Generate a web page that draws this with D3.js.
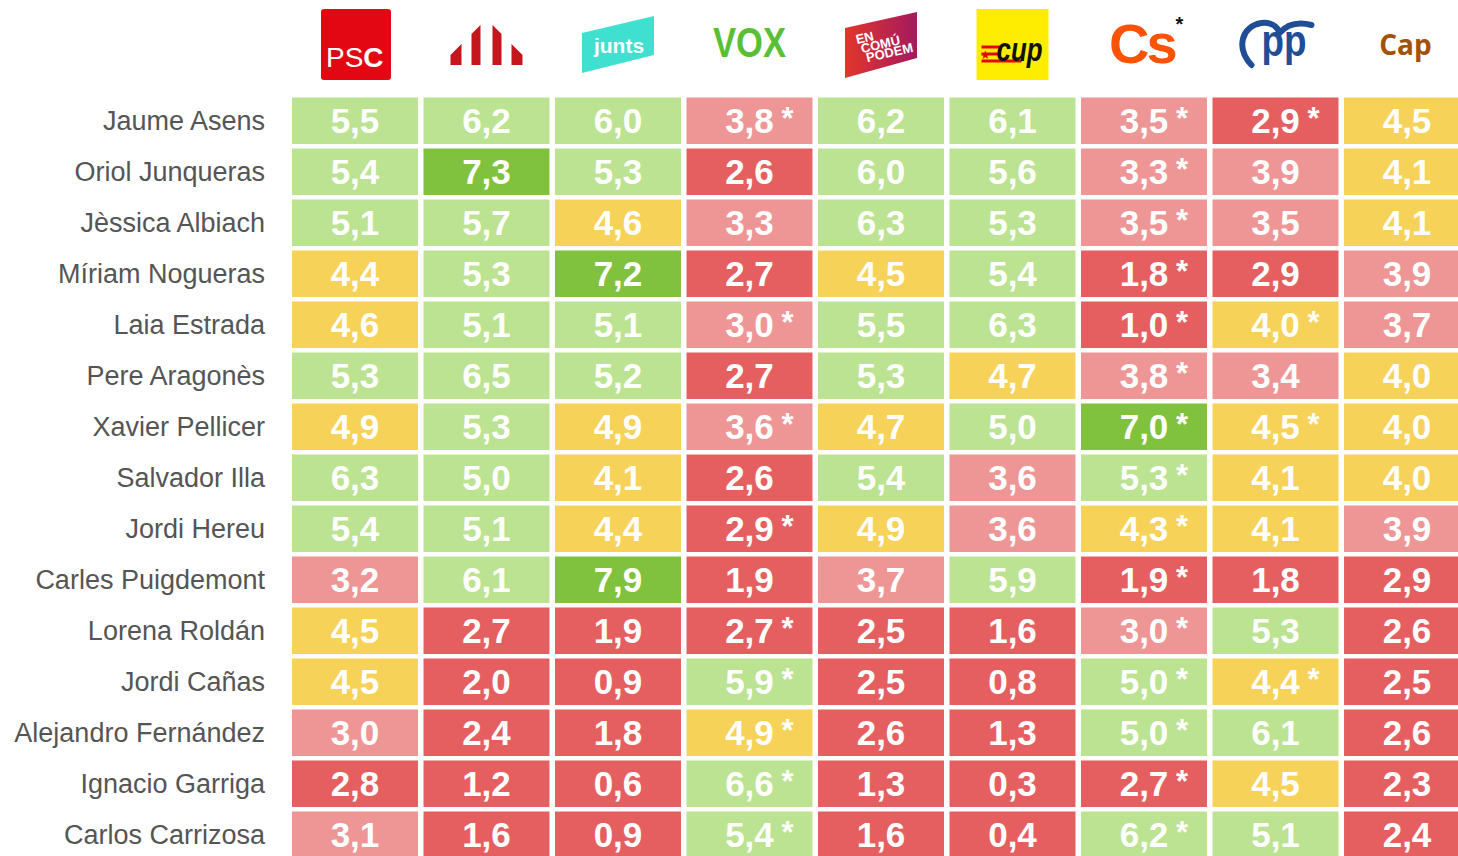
<!DOCTYPE html>
<html>
<head>
<meta charset="utf-8">
<script src="https://cdn.jsdelivr.net/npm/d3@7"></script>
<style>
  body { margin: 0; background: #fff; }
  svg { display: block; }
</style>
</head>
<body>
<div id="chart"></div>
<script>
const width = 1458;
const height = 856;

const parties = ["PSC", "ERC", "Junts", "VOX", "ECP", "CUP", "Cs", "PP", "Cap"];

const leaders = [
  "Jaume Asens", "Oriol Junqueras", "Jèssica Albiach", "Míriam Nogueras",
  "Laia Estrada", "Pere Aragonès", "Xavier Pellicer", "Salvador Illa",
  "Jordi Hereu", "Carles Puigdemont", "Lorena Roldán", "Jordi Cañas",
  "Alejandro Fernández", "Ignacio Garriga", "Carlos Carrizosa"
];

// one row per leader, one value per party (same order as parties)
const scores = [
  [5.5, 6.2, 6.0, 3.8, 6.2, 6.1, 3.5, 2.9, 4.5],
  [5.4, 7.3, 5.3, 2.6, 6.0, 5.6, 3.3, 3.9, 4.1],
  [5.1, 5.7, 4.6, 3.3, 6.3, 5.3, 3.5, 3.5, 4.1],
  [4.4, 5.3, 7.2, 2.7, 4.5, 5.4, 1.8, 2.9, 3.9],
  [4.6, 5.1, 5.1, 3.0, 5.5, 6.3, 1.0, 4.0, 3.7],
  [5.3, 6.5, 5.2, 2.7, 5.3, 4.7, 3.8, 3.4, 4.0],
  [4.9, 5.3, 4.9, 3.6, 4.7, 5.0, 7.0, 4.5, 4.0],
  [6.3, 5.0, 4.1, 2.6, 5.4, 3.6, 5.3, 4.1, 4.0],
  [5.4, 5.1, 4.4, 2.9, 4.9, 3.6, 4.3, 4.1, 3.9],
  [3.2, 6.1, 7.9, 1.9, 3.7, 5.9, 1.9, 1.8, 2.9],
  [4.5, 2.7, 1.9, 2.7, 2.5, 1.6, 3.0, 5.3, 2.6],
  [4.5, 2.0, 0.9, 5.9, 2.5, 0.8, 5.0, 4.4, 2.5],
  [3.0, 2.4, 1.8, 4.9, 2.6, 1.3, 5.0, 6.1, 2.6],
  [2.8, 1.2, 0.6, 6.6, 1.3, 0.3, 2.7, 4.5, 2.3],
  [3.1, 1.6, 0.9, 5.4, 1.6, 0.4, 6.2, 5.1, 2.4]
];

// 1 = value marked with an asterisk
const starred = [
  [0, 0, 0, 1, 0, 0, 1, 1, 0],
  [0, 0, 0, 0, 0, 0, 1, 0, 0],
  [0, 0, 0, 0, 0, 0, 1, 0, 0],
  [0, 0, 0, 0, 0, 0, 1, 0, 0],
  [0, 0, 0, 1, 0, 0, 1, 1, 0],
  [0, 0, 0, 0, 0, 0, 1, 0, 0],
  [0, 0, 0, 1, 0, 0, 1, 1, 0],
  [0, 0, 0, 0, 0, 0, 1, 0, 0],
  [0, 0, 0, 1, 0, 0, 1, 0, 0],
  [0, 0, 0, 0, 0, 0, 1, 0, 0],
  [0, 0, 0, 1, 0, 0, 1, 0, 0],
  [0, 0, 0, 1, 0, 0, 1, 1, 0],
  [0, 0, 0, 1, 0, 0, 1, 0, 0],
  [0, 0, 0, 1, 0, 0, 1, 0, 0],
  [0, 0, 0, 1, 0, 0, 1, 0, 0]
];

const colorBreaks = [3, 4, 5, 7];
const colorPalette = ["#e65f60", "#ee9696", "#f7d259", "#bce391", "#80c13d"];

let svg = d3.select("#chart")
            .append("svg")
            .attr("width", width)
            .attr("height", height)
            .style("font-family", "'Liberation Sans', Arial, sans-serif");

const x = d3.scaleBand()
            .domain(parties)
            .range([292, 1470])
            .paddingInner(0.042);

const y = d3.scaleBand()
            .domain(leaders)
            .range([97.5, 858])
            .paddingInner(0.088);

const color = d3.scaleThreshold()
                .domain(colorBreaks)
                .range(colorPalette);

const fmt = v => d3.format(".1f")(v).replace(".", ",");

function drawCells() {
  const cells = [];
  leaders.forEach((name, i) => {
    parties.forEach((p, j) => {
      cells.push({ name: name, party: p, value: scores[i][j], star: starred[i][j] });
    });
  });

  let g = svg.append("g").attr("class", "cells");

  g.selectAll("rect")
    .data(cells)
    .enter()
    .append("rect")
    .attr("x", d => x(d.party))
    .attr("y", d => y(d.name))
    .attr("width", x.bandwidth())
    .attr("height", y.bandwidth())
    .attr("fill", d => color(d.value));

  g.selectAll("text.value")
    .data(cells)
    .enter()
    .append("text")
    .attr("class", "value")
    .attr("x", d => x(d.party) + x.bandwidth() / 2)
    .attr("y", d => y(d.name) + y.bandwidth() / 2)
    .attr("dy", "0.36em")
    .attr("text-anchor", "middle")
    .attr("fill", "#fff")
    .attr("font-size", 35)
    .attr("font-weight", "bold")
    .text(d => fmt(d.value));

  // asterisk sits high, like a superscript
  g.selectAll("text.star")
    .data(cells.filter(d => d.star))
    .enter()
    .append("text")
    .attr("class", "star")
    .attr("x", d => x(d.party) + x.bandwidth() / 2 + 32)
    .attr("y", d => y(d.name) + y.bandwidth() / 2 + 8)
    .attr("fill", "#fff")
    .attr("font-size", 31)
    .attr("font-weight", "bold")
    .text("*");
}

function drawLabels() {
  svg.append("g")
    .selectAll("text")
    .data(leaders)
    .enter()
    .append("text")
    .attr("x", 265)
    .attr("y", d => y(d) + y.bandwidth() / 2)
    .attr("dy", "0.35em")
    .attr("text-anchor", "end")
    .attr("fill", "#555")
    .attr("font-size", 27)
    .text(d => d);
}

// party logos, drawn around each column centre
const logoDrawers = {
  PSC: g => {
    g.append("rect").attr("x", -34).attr("y", 9).attr("width", 70).attr("height", 71)
      .attr("rx", 3).attr("fill", "#e30613");
    let t = g.append("text").attr("x", -29).attr("y", 67).attr("fill", "#fff").attr("font-size", 28);
    t.append("tspan").text("PS");
    t.append("tspan").attr("font-weight", "bold").text("C");
  },
  ERC: g => {
    const bars = [[-36, -25], [-15, -6], [6, 15], [25, 36]];
    const roof = xx => 19 + Math.abs(xx);
    bars.forEach(b => {
      g.append("polygon")
        .attr("points", [[b[0], 65], [b[0], roof(b[0])], [b[1], roof(b[1])], [b[1], 65]].join(" "))
        .attr("fill", "#c5161d");
    });
  },
  Junts: g => {
    g.append("polygon")
      .attr("points", "-36,33 36,16 36,55 -36,73")
      .attr("fill", "#40e0d0");
    g.append("text").attr("x", 1).attr("y", 53).attr("text-anchor", "middle")
      .attr("fill", "#fff").attr("font-size", 21).attr("font-weight", "bold").text("junts");
  },
  VOX: g => {
    g.append("text").attr("x", 0).attr("y", 57).attr("text-anchor", "middle")
      .attr("fill", "#5bbf35").attr("font-size", 42).attr("font-weight", "bold")
      .attr("textLength", 73).attr("lengthAdjust", "spacingAndGlyphs").text("VOX");
  },
  ECP: g => {
    let grad = svg.append("defs").append("linearGradient").attr("id", "ecpGrad");
    grad.append("stop").attr("offset", "0%").attr("stop-color", "#e2362c");
    grad.append("stop").attr("offset", "100%").attr("stop-color", "#a31a5e");
    g.append("polygon")
      .attr("points", "-36,28 36,12 36,58 -36,78")
      .attr("fill", "url(#ecpGrad)");
    let t = g.append("g").attr("transform", "rotate(-13,-24,40)");
    [["EN", 44], ["COMÚ", 54], ["PODEM", 64]].forEach((l, i) => {
      t.append("text").attr("x", -25 + i * 3).attr("y", l[1]).attr("fill", "#fff")
        .attr("font-size", 13).attr("font-weight", "bold").text(l[0]);
    });
  },
  CUP: g => {
    g.append("rect").attr("x", -36).attr("y", 9).attr("width", 72).attr("height", 71).attr("fill", "#ffed00");
    [47, 54, 61].forEach(yy => {
      g.append("rect").attr("x", -31).attr("y", yy - 1.5).attr("width", yy === 61 ? 40 : 19)
        .attr("height", 3).attr("fill", "#e30613");
    });
    g.append("text").attr("x", -27).attr("y", 59).attr("text-anchor", "middle")
      .attr("fill", "#e30613").attr("font-size", 12).text("★");
    g.append("text").attr("x", -16).attr("y", 61).attr("fill", "#111")
      .attr("font-size", 34).attr("font-weight", "bold").attr("font-style", "italic")
      .attr("textLength", 46).attr("lengthAdjust", "spacingAndGlyphs").text("cup");
  },
  Cs: g => {
    // asterisk kept in the same text element as a raised tspan
    let t = g.append("text").attr("x", -35).attr("y", 63).attr("font-weight", "bold");
    t.append("tspan").attr("fill", "#fb5203").attr("font-size", 56)
      .attr("letter-spacing", -3).text("Cs");
    t.append("tspan").attr("fill", "#111").attr("font-size", 20)
      .attr("dx", 1).attr("dy", -32).text("*");
  },
  PP: g => {
    g.append("path")
      .attr("d", "M-24,65 C-40,48 -34,26 -14,23 C-4,22 2,27 4,33 C12,24 24,22 36,25")
      .attr("fill", "none").attr("stroke", "#1f4e96").attr("stroke-width", 6)
      .attr("stroke-linecap", "round");
    g.append("text").attr("x", -14).attr("y", 56).attr("fill", "#1f4e96")
      .attr("font-size", 44).attr("font-weight", "bold")
      .attr("textLength", 45).attr("lengthAdjust", "spacingAndGlyphs").text("pp");
  },
  Cap: g => {
    g.append("text").attr("x", -1.5).attr("y", 55).attr("text-anchor", "middle")
      .attr("fill", "#a0520a").attr("font-size", 28).attr("font-weight", "bold")
      .style("font-family", "'Open Sans', sans-serif").text("Cap");
  }
};

function drawLogos() {
  let logos = svg.append("g").attr("class", "logos");
  parties.forEach(p => {
    let g = logos.append("g")
      .attr("transform", `translate(${x(p) + x.bandwidth() / 2},0)`);
    logoDrawers[p](g);
  });
}

drawCells();
drawLabels();
drawLogos();
</script>
</body>
</html>
